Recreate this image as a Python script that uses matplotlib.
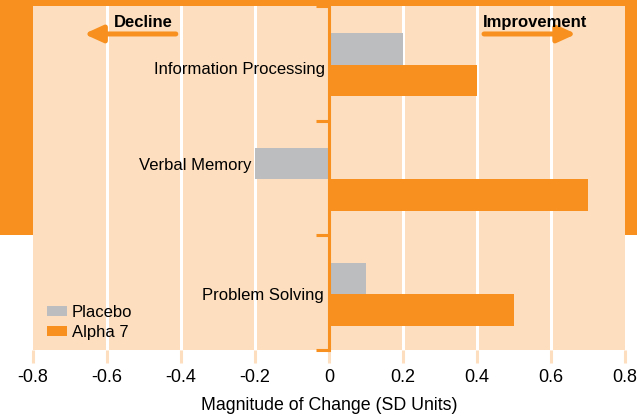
"""Alpha 7 vs placebo: magnitude of change in cognitive measures (SD units)."""
import matplotlib

matplotlib.use("Agg")
import matplotlib.pyplot as plt
from matplotlib.patches import Patch, Rectangle

plt.rcParams["font.family"] = ["Liberation Sans", "DejaVu Sans"]

CATEGORIES = ["Information Processing", "Verbal Memory", "Problem Solving"]
PLACEBO = [0.2, -0.2, 0.1]
ALPHA7 = [0.4, 0.7, 0.5]
XTICKS = [-0.8, -0.6, -0.4, -0.2, 0, 0.2, 0.4, 0.6, 0.8]
XTICK_LABELS = ["-0.8", "-0.6", "-0.4", "-0.2", "0", "0.2", "0.4", "0.6", "0.8"]

ORANGE = "#F7901E"
PEACH = "#FDDEBE"
GREY = "#BCBDBF"

W, H = 637, 419
fig = plt.figure(figsize=(W / 100, H / 100), dpi=100, facecolor="white")
# orange band behind the upper part of the chart
fig.patches.append(
    Rectangle((0, 1 - 235 / H), 1, 235 / H, transform=fig.transFigure,
              facecolor=ORANGE, edgecolor="none", zorder=-1)
)
ax = fig.add_axes([33 / W, 1 - 350 / H, 592 / W, 344 / H])
ax.set_facecolor(PEACH)

ypos = list(range(len(CATEGORIES)))
bh = 0.275
ax.barh([y - bh / 2 + 0.012 for y in ypos], PLACEBO, height=bh, color=GREY, zorder=3, label="Placebo")
ax.barh([y + bh / 2 + 0.012 for y in ypos], ALPHA7, height=bh, color=ORANGE, zorder=3, label="Alpha 7")

ax.set_xlim(-0.8, 0.8)
ax.set_ylim(2.5, -0.5)

for x in XTICKS:
    if x not in (-0.8, 0, 0.8):
        ax.axvline(x, color="white", lw=2.2, zorder=1)

# spines: only the centre line at x = 0
for s in ["top", "right", "bottom"]:
    ax.spines[s].set_visible(False)
ax.spines["left"].set_position(("data", 0))
ax.spines["left"].set_color(ORANGE)
ax.spines["left"].set_linewidth(2.2)
ax.spines["left"].set_zorder(4)

ax.set_yticks([-0.5, 0.5, 1.5, 2.5])
ax.set_yticklabels([])
ax.tick_params(axis="y", direction="out", length=9.4, width=2.2, color=ORANGE)

ax.set_xticks(XTICKS)
ax.set_xticklabels(XTICK_LABELS, fontsize=13)
ax.tick_params(axis="x", length=9.4, width=2.2, color=PEACH, pad=4)
for t, loc in zip(ax.xaxis.get_major_ticks(), XTICKS):
    if loc == 0:
        t.tick1line.set_color(ORANGE)

ax.set_xlabel("Magnitude of Change (SD Units)", fontsize=12.8, labelpad=8)

# category labels
ax.text(-0.011, 0.05, CATEGORIES[0], ha="right", va="center", fontsize=12, zorder=5)
ax.text(-0.21, 0.89, CATEGORIES[1], ha="right", va="center", fontsize=12, zorder=5)
ax.text(-0.013, 2.025, CATEGORIES[2], ha="right", va="center", fontsize=12, zorder=5)

# direction arrows
arrow = dict(arrowstyle="-|>,head_length=0.55,head_width=0.25", color=ORANGE,
             lw=3.6, shrinkA=0, shrinkB=0, mutation_scale=20)
ax.annotate("", xy=(-0.662, -0.256), xytext=(-0.414, -0.256), arrowprops=arrow)
ax.annotate("", xy=(0.668, -0.256), xytext=(0.419, -0.256), arrowprops=arrow)
ax.text(-0.421, -0.36, "Decline", ha="right", va="center", fontsize=12, fontweight="bold")
ax.text(0.416, -0.36, "Improvement", ha="left", va="center", fontsize=12, fontweight="bold")

handles = [Patch(facecolor=GREY, label="Placebo"), Patch(facecolor=ORANGE, label="Alpha 7")]
ax.legend(handles=handles, loc="lower left", bbox_to_anchor=(14 / 592, 0.03),
          frameon=False, fontsize=12, handlelength=1.2, handleheight=0.55,
          handletextpad=0.3, labelspacing=0.3, borderpad=0, borderaxespad=0)

fig.savefig("out.png", dpi=100)
